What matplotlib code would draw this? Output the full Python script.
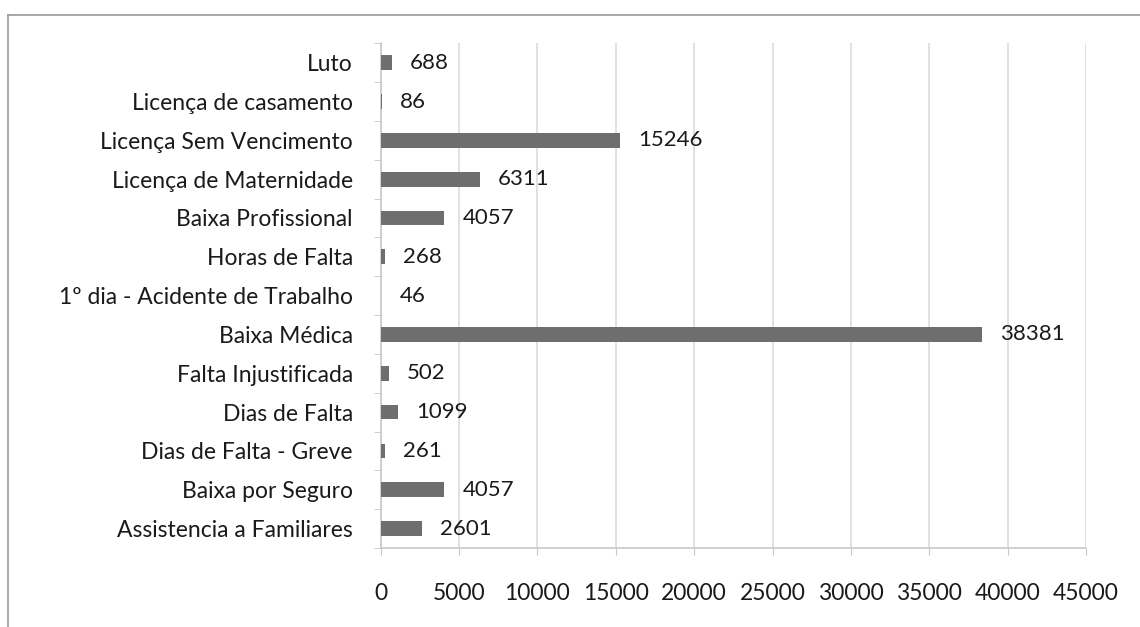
import matplotlib.pyplot as plt
from matplotlib.lines import Line2D
import numpy as np

# categories from bottom to top
categorias = ['Assistencia a Familiares', 'Baixa por Seguro', 'Dias de Falta - Greve',
              'Dias de Falta', 'Falta Injustificada', 'Baixa Médica',
              '1º dia - Acidente de Trabalho', 'Horas de Falta', 'Baixa Profissional',
              'Licença de Maternidade', 'Licença Sem Vencimento', 'Licença de casamento', 'Luto']
valores = [2601, 4057, 261, 1099, 502, 38381, 46, 268, 4057, 6311, 15246, 86, 688]
xticks = list(range(0, 45001, 5000))

plt.rcParams['font.family'] = ['Lato', 'DejaVu Sans']

fig = plt.figure(figsize=(11.4, 6.27), dpi=100)
ax = fig.add_axes([0.334, 0.126, 0.6186, 0.805])

y = np.arange(len(categorias))
ax.barh(y, valores, height=0.38, color='#6e6e6e', zorder=3)
for yi, v in zip(y, valores):
    ax.annotate(str(v), xy=(v, yi), xytext=(13, 0), textcoords='offset points',
                va='center', ha='left', fontsize=16, color='#1a1a1a')

ax.set_xlim(0, 45000)
ax.set_ylim(-0.5, len(categorias) - 0.5)
ax.set_xticks(xticks)
ax.set_xticklabels([str(t) for t in xticks], fontsize=16.5, color='#1a1a1a')
ax.set_yticks(y)
ax.set_yticklabels(categorias, fontsize=16.5, color='#1a1a1a')
ax.set_yticks(np.arange(-0.5, len(categorias), 1), minor=True)

ax.grid(axis='x', color='#dcdcdc', linewidth=1.2, zorder=0)
for s in ['top', 'right']:
    ax.spines[s].set_visible(False)
for s in ['left', 'bottom']:
    ax.spines[s].set_color('#c8c8c8')
    ax.spines[s].set_linewidth(1.2)
ax.tick_params(axis='x', length=5, color='#c8c8c8', pad=20)
ax.tick_params(axis='y', which='major', length=0, pad=20)
ax.tick_params(axis='y', which='minor', length=5, color='#c8c8c8')

# outer frame of the scanned chart
fig.add_artist(Line2D([8 / 1140, 8 / 1140], [0, 1 - 15 / 627], color='#9a9a9a', lw=1.2))
fig.add_artist(Line2D([8 / 1140, 1], [1 - 15 / 627, 1 - 15 / 627], color='#9a9a9a', lw=1.2))

fig.savefig('out.png', dpi=100)
